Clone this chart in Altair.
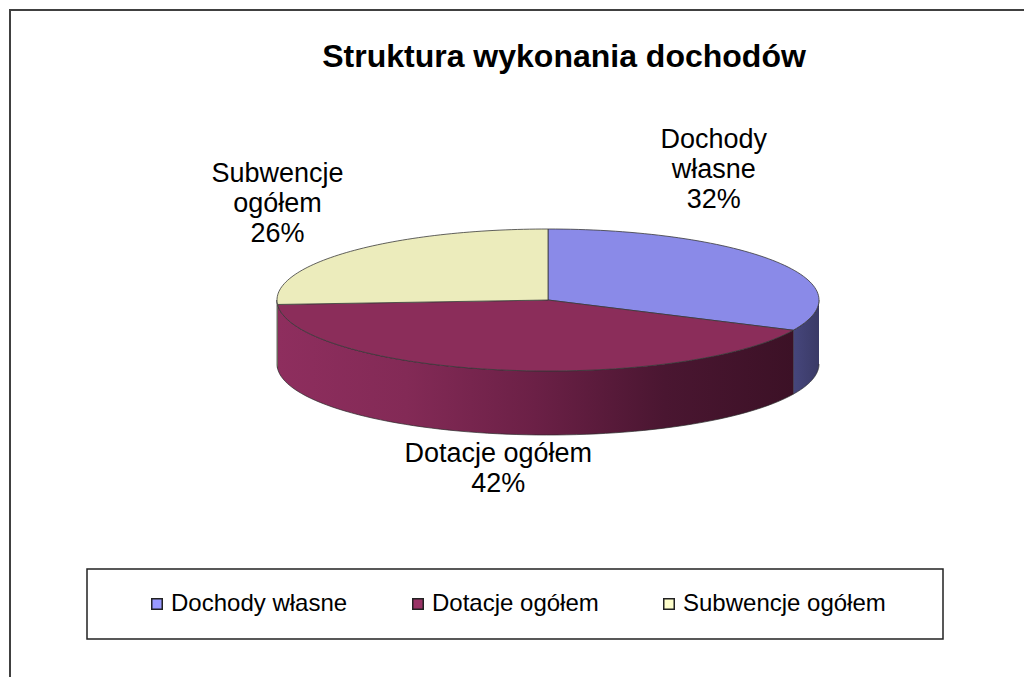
import altair as alt
import pandas as pd

# ---- data ----
categories = ["Dochody własne", "Dotacje ogółem", "Subwencje ogółem"]
shares = [32, 42, 26]
label_names = ["Dochody\nwłasne", "Dotacje ogółem", "Subwencje\nogółem"]

# ---- styles ----
legend_colors = ["#9999FF", "#993366", "#FFFFCC"]
face_colors = ["#8A8AE8", "#8B2D5A", "#ECECBC"]
wall_stops = [
    [("#46467C", 0.0), ("#3A3A66", 1.0)],
    [("#8E2E5E", 0.0), ("#832A56", 0.25), ("#6B2046", 0.5), ("#4A1631", 0.75), ("#3C1126", 1.0)],
    [("#CFCFA0", 0.0), ("#BDBD8E", 1.0)],
]
# label placement relative to the slice's mid-angle point on the rim
label_nudge_x = [-63, 1, -73]
label_nudge_y = [-122, 84, -77]

W, H = 1024, 677
CX, CY, RX, RY, DEPTH = 548, 300, 271, 71, 64
N = 72
FONT = "Liberation Sans"

df = pd.DataFrame({
    "idx": list(range(len(categories))),
    "cat": categories,
    "share": shares,
    "label": label_names,
    "face": face_colors,
    "nx": label_nudge_x,
    "ny": label_nudge_y,
})

xs = alt.Scale(domain=[0, W], nice=False, zero=False)
ys = alt.Scale(domain=[0, H], nice=False, zero=False, reverse=True)


def with_angles(ch):
    return (
        ch.transform_window(cum="sum(share)", sort=[alt.SortField("idx")], frame=[None, 0])
        .transform_joinaggregate(total="sum(share)")
        .transform_calculate(
            a0="2*PI*(datum.cum-datum.share)/datum.total",
            a1="2*PI*datum.cum/datum.total",
        )
    )


def xy():
    return dict(
        x=alt.X("px:Q", scale=xs, axis=None),
        y=alt.Y("py:Q", scale=ys, axis=None),
    )


# side walls (visible front half only)
walls = []
for i, c in enumerate(categories):
    w = (
        with_angles(alt.Chart(df))
        .transform_filter(alt.datum.cat == c)
        .transform_calculate(b0="max(datum.a0, PI/2)", b1="min(datum.a1, 3*PI/2)")
        .transform_filter("datum.b1 > datum.b0 + 1e-6")
        .transform_calculate(k=f"sequence(0, {2 * N + 2})")
        .transform_flatten(["k"])
        .transform_calculate(
            t=f"datum.k <= {N} ? datum.b0 + (datum.b1-datum.b0)*datum.k/{N} : datum.b1 - (datum.b1-datum.b0)*(datum.k-{N + 1})/{N}",
        )
        .transform_calculate(
            px=f"{CX} + {RX}*sin(datum.t)",
            py=f"{CY} - {RY}*cos(datum.t) + (datum.k > {N} ? {DEPTH} : 0)",
        )
        .mark_line(
            fill=alt.LinearGradient(
                gradient="linear",
                stops=[alt.GradientStop(color=col, offset=o) for col, o in wall_stops[i]],
                x1=0, x2=1, y1=0, y2=0,
            ),
            stroke="#2a2a2a",
            strokeWidth=0.7,
            strokeJoin="round",
        )
        .encode(order="k:Q", **xy())
    )
    walls.append(w)

# top faces
top = (
    with_angles(alt.Chart(df))
    .transform_calculate(k=f"sequence(0, {N + 3})")
    .transform_flatten(["k"])
    .transform_calculate(t=f"datum.a0 + (datum.a1-datum.a0)*(datum.k-1)/{N}")
    .transform_calculate(
        px=f"(datum.k == 0 || datum.k == {N + 2}) ? {CX} : {CX} + {RX}*sin(datum.t)",
        py=f"(datum.k == 0 || datum.k == {N + 2}) ? {CY} : {CY} - {RY}*cos(datum.t)",
    )
    .mark_line(stroke="#3a3a3a", strokeWidth=0.8, strokeJoin="round")
    .encode(
        order="k:Q",
        detail="cat:N",
        fill=alt.Fill("face:N", scale=None),
        **xy(),
    )
)

# data labels
labels = (
    with_angles(alt.Chart(df))
    .transform_calculate(
        mid="(datum.a0 + datum.a1)/2",
    )
    .transform_calculate(
        px=f"{CX} + {RX}*sin(datum.mid) + datum.nx",
        py=f"{CY} - {RY}*cos(datum.mid) + datum.ny",
        txt="datum.label + '\\n' + datum.share + '%'",
    )
    .mark_text(
        font=FONT, fontSize=27, color="#000000", align="center", baseline="middle",
        lineBreak="\n", lineHeight=30,
    )
    .encode(text="txt:N", **xy())
)

# legend carrier (invisible points)
legend_layer = (
    alt.Chart(df)
    .mark_point(filled=True, opacity=0, shape="square")
    .encode(
        x=alt.value(0),
        y=alt.value(0),
        color=alt.Color(
            "cat:N",
            scale=alt.Scale(domain=categories, range=legend_colors),
            legend=alt.Legend(
                orient="none",
                legendX=87,
                legendY=569,
                direction="horizontal",
                title=" ",
                titleOrient="right",
                titlePadding=34,
                titleFontSize=10,
                padding=23,
                symbolType="square",
                symbolSize=110,
                symbolStrokeColor="#222222",
                symbolStrokeWidth=1.5,
                symbolOpacity=1,
                symbolOffset=35,
                columnPadding=23,
                labelOffset=2,
                labelFont=FONT,
                labelFontSize=24,
                labelColor="#000000",
                labelLimit=400,
            ),
        ),
    )
)

frame_df = pd.DataFrame({"f": [0]})
frame_left = alt.Chart(frame_df).mark_rule(color="#404040", strokeWidth=2).encode(
    x=alt.value(10), y=alt.value(10), y2=alt.value(H)
)
frame_top = alt.Chart(frame_df).mark_rule(color="#404040", strokeWidth=2).encode(
    x=alt.value(9), x2=alt.value(W), y=alt.value(10)
)

chart = (
    alt.layer(frame_left, frame_top, *walls, top, labels, legend_layer)
    .properties(
        width=W,
        height=H,
        padding=0,
        autosize=alt.AutoSizeParams(type="none"),
        background="#ffffff",
        title=alt.TitleParams(
            "Struktura wykonania dochodów",
            font=FONT,
            fontSize=32,
            fontWeight="bold",
            color="#000000",
            anchor="middle",
            frame="group",
            orient="top",
            offset=0,
            baseline="alphabetic",
            dx=52,
            dy=102,
        ),
    )
    .configure_view(stroke=None)
    .configure_legend(strokeColor="#222222", strokeWidth=1.5)
)

chart.save("out.html", embed_options={"renderer": "svg", "actions": False})
